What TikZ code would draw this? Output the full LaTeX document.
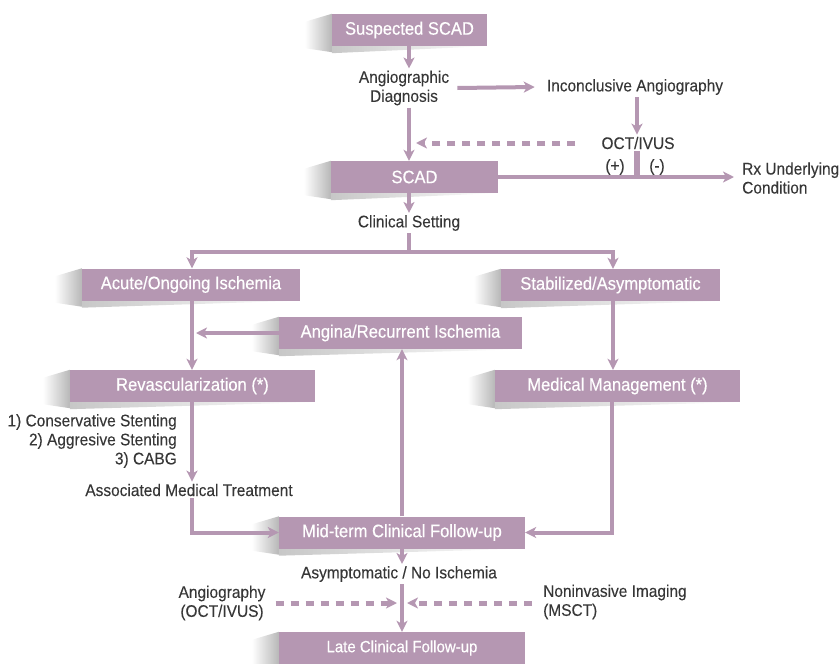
\documentclass[tikz,border=0pt]{standalone}
\usepackage{fontspec}
\setmainfont{Liberation Sans}
\newfontfamily\boxfont{Liberation Sans}[FakeStretch=0.92,FakeBold=0.4]
\newfontfamily\lblfont{Liberation Sans}[FakeStretch=0.92,FakeBold=0.15]
\usetikzlibrary{arrows.meta,backgrounds}
\definecolor{mauve}{RGB}{181,151,178}
\definecolor{txt}{RGB}{55,55,55}
\newcommand{\bxshadow}[1]{%
  \shade[left color=white, right color=black!28]
    ([xshift=-27pt,yshift=-8pt]#1.north west) -- (#1.north west) --
    ([yshift=-6pt]#1.south west) -- ([xshift=-27pt,yshift=-2pt]#1.south west) -- cycle;
  \shade[left color=black!22, right color=white]
    (#1.south west) -- (#1.south east) -- ([yshift=-7pt]#1.south west) -- cycle;
}
\begin{document}
\begin{tikzpicture}[x=1pt,y=-1pt,
  bx/.style={fill=mauve, text=white, minimum height=32pt, inner sep=0pt,
    font=\boxfont\fontsize{18}{20}\selectfont},
  lbl/.style={text=txt, inner sep=2pt, font=\lblfont\fontsize{16.8}{19}\selectfont},
  conn/.style={draw=mauve, line width=4pt},
  arr/.style={conn, -{Stealth[length=11pt,width=11pt,inset=3pt]}},
  dsh/.style={draw=mauve, line width=5pt, dash pattern=on 8pt off 7pt,
    -{Stealth[length=11pt,width=11pt,inset=3pt]}},
  bar/.style={draw=mauve, line width=6pt}]
\useasboundingbox (0,0) rectangle (839,664);
\coordinate (mx) at (409,0);
\coordinate (octx) at (637,0);
\coordinate (lx) at (192,0);
\coordinate (rxx) at (612,0);
\coordinate (sx) at (613,0);
\coordinate (dtip) at (416,0);
\node[bx, minimum width=155pt] (susp) at (409.5,30) {Suspected SCAD};
\node[lbl, align=center] (angio) at (404,88) {Angiographic\\Diagnosis};
\node[lbl] (incon) at (635,87) {Inconclusive Angiography};
\node[lbl] (oct) at (638,143) {OCT/IVUS};
\node[lbl] (plus) at (615,167) {(+)};
\node[lbl] (minus) at (657,167) {(-)};
\node[bx, minimum width=167pt] (scad) at (414.5,177) {SCAD};
\node[lbl, align=left, anchor=west] (rx) at (740,178) {Rx Underlying\\Condition};
\node[lbl] (clin) at (409,223) {Clinical Setting};
\coordinate (split) at (409,252);
\node[bx, minimum width=218pt] (acute) at (191,284.5) {Acute/Ongoing Ischemia};
\node[bx, minimum width=219pt] (stab) at (610.5,285) {Stabilized/Asymptomatic};
\node[bx, minimum width=243pt] (angina) at (400.5,333) {Angina/Recurrent Ischemia};
\node[bx, minimum width=245pt] (revasc) at (192.5,386) {Revascularization (*)};
\node[bx, minimum width=245pt] (med) at (617.5,386) {Medical Management (*)};
\node[lbl, align=right, anchor=east] (stent) at (179,441) {1) Conservative Stenting\\2) Aggresive Stenting\\3) CABG};
\node[lbl] (assoc) at (189,490) {Associated Medical Treatment};
\node[bx, minimum width=246pt] (mid) at (402,532.5) {Mid-term Clinical Follow-up};
\node[lbl] (asym) at (399,574) {Asymptomatic / No Ischemia};
\node[lbl, align=center] (angio2) at (222,603) {Angiography\\(OCT/IVUS)};
\node[lbl, align=left, anchor=west] (nonin) at (541,602) {Noninvasive Imaging\\(MSCT)};
\node[bx, minimum width=246pt, font=\boxfont\fontsize{16.3}{20}\selectfont] (late) at (402,648) {Late Clinical Follow-up};
\begin{scope}[on background layer]
  \foreach \n in {susp,scad,acute,stab,angina,revasc,med,mid,late} {\bxshadow{\n}}
\end{scope}
% connectors
\draw[arr] (susp.south -| mx) -- (angio.north -| mx);
\draw[arr] (angio.south -| mx) -- (scad.north -| mx);
\draw[arr] ([xshift=6pt]angio.east) -- ([xshift=-10pt]incon.west);
\draw[arr] (incon.south -| octx) -- (oct.north -| octx);
\draw[dsh] ([xshift=-24pt]oct.west) -- (oct.west -| dtip);
\draw[bar] (oct.south -| octx) -- (scad.east -| octx);
\draw[arr] (scad.east) -- ([xshift=-6pt]rx.west |- scad.east);
\draw[arr] (scad.south -| mx) -- (clin.north -| mx);
\draw[conn] (clin.south -| mx) -- (split);
\draw[arr] (split) -| (acute.north -| lx);
\draw[arr] (split) -| (stab.north -| sx);
\draw[arr] (acute.south -| lx) -- (revasc.north -| lx);
\draw[arr] (stab.south -| sx) -- (med.north -| sx);
\draw[arr] (angina.west) -- ([xshift=4pt]angina.west -| lx);
\draw[arr] (mid.north) -- (mid.north |- angina.south);
\draw[arr] (revasc.south -| lx) -- (assoc.north -| lx);
\draw[arr] (assoc.south -| lx) |- (mid.west);
\draw[arr] (med.south -| rxx) |- (mid.east);
\draw[arr] (mid.south) -- (asym.north -| mid.south);
\draw[arr] (asym.south -| mid.south) -- (late.north);
\draw[dsh] ([xshift=8pt]angio2.east) -- ([xshift=-5pt]angio2.east -| mid.south);
\draw[dsh] ([xshift=-9pt]nonin.west |- angio2.east) -- ([xshift=5pt]angio2.east -| mid.south);
\end{tikzpicture}
\end{document}
